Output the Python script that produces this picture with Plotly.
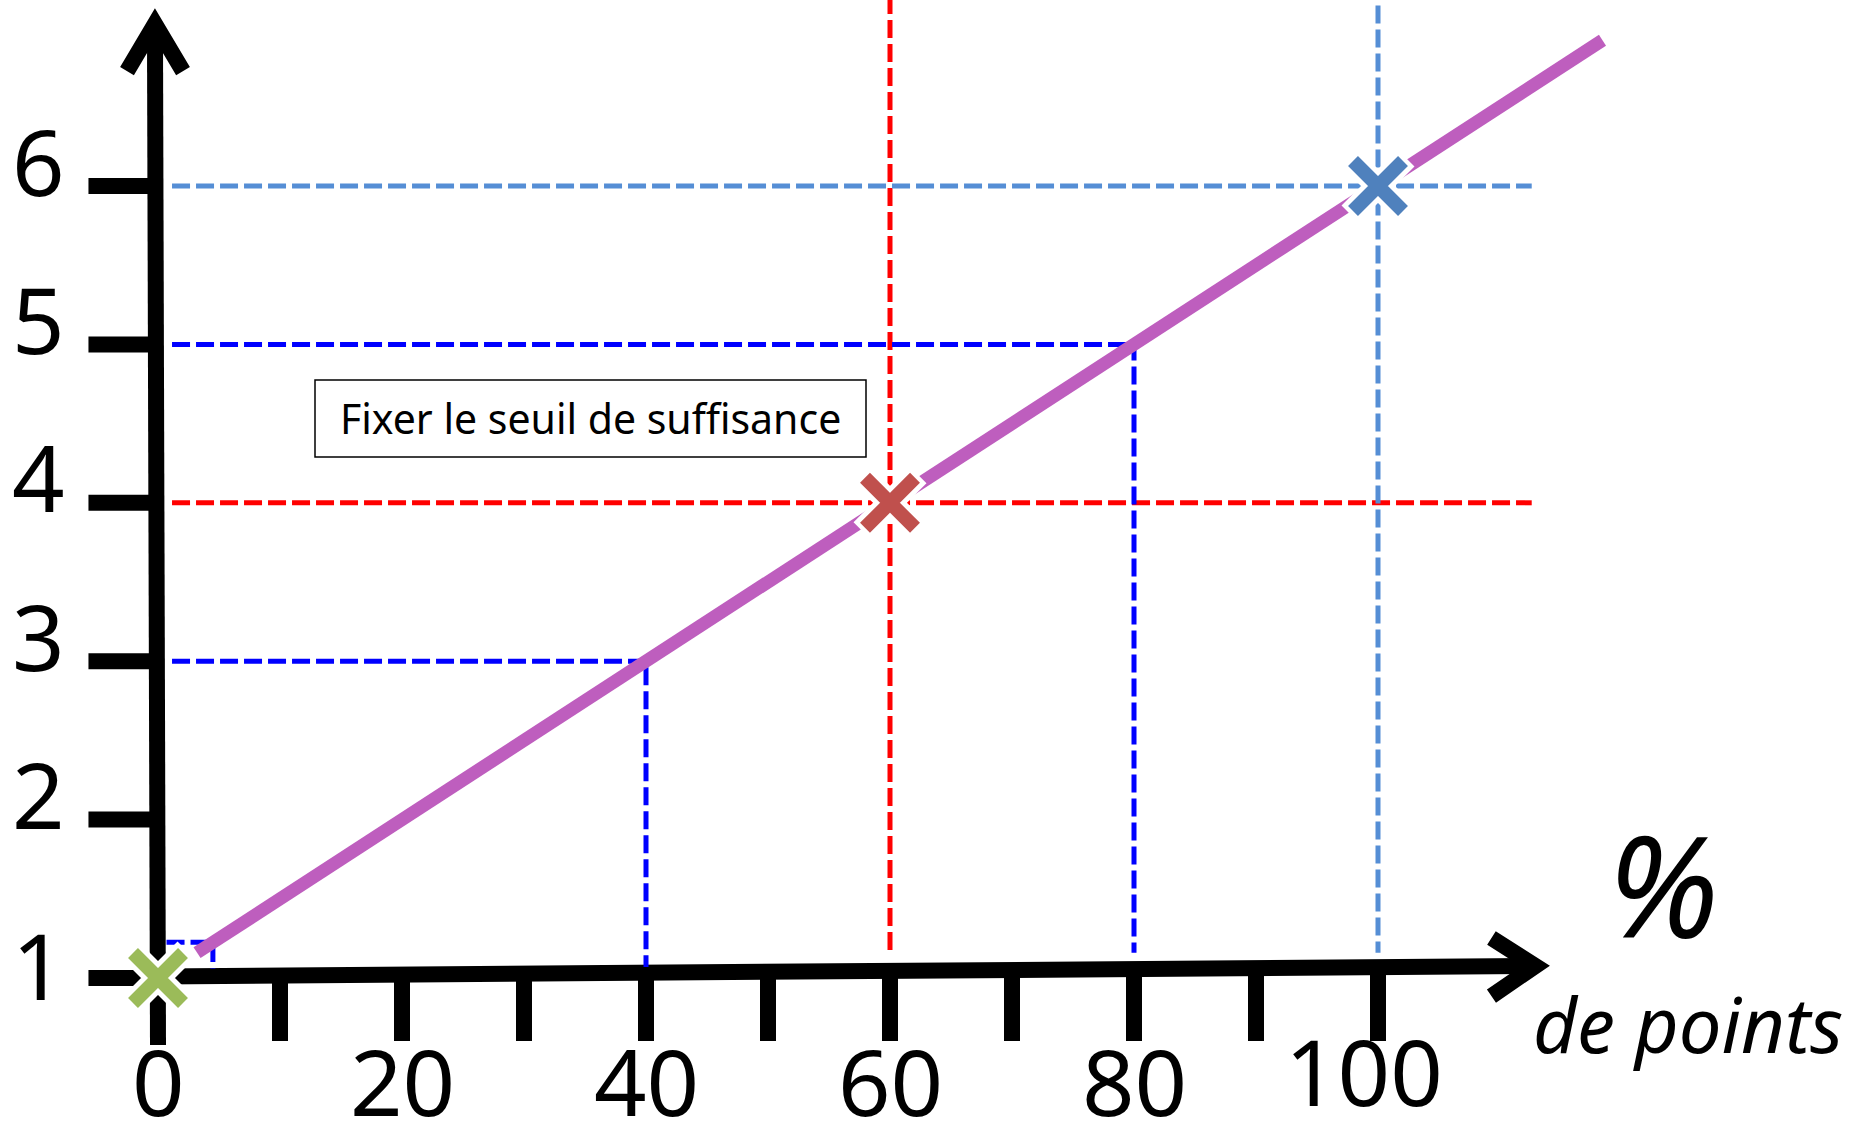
import plotly.graph_objects as go

# axis ticks and labels
x_ticks = [0, 10, 20, 30, 40, 50, 60, 70, 80, 90, 100]
x_labels = [0, 20, 40, 60, 80, 100]
y_ticks = [1, 2, 3, 4, 5, 6]

# conversion line (% of points -> mark)
line_x = [3.2, 118.4]
line_y = [1.16, 6.92]

# reading guides (dashed)
red_h_x = [1.15, 112.6]
red_h_y = [4, 4]
red_v_x = [60, 60]
red_v_y = [7.2, 1.15]
lblue_h_x = [1.15, 112.6]
lblue_h_y = [6, 6]
lblue_v_x = [100, 100]
lblue_v_y = [7.14, 1.16]
blue_x = [1.15, 80, 80]
blue_y = [5, 5, 1.16]
blue2_x = [1.15, 40, 40]
blue2_y = [3, 3, 1.07]
blue3_x = [0.7, 4.5, 4.5]
blue3_y = [1.225, 1.225, 1.06]

# key points
pts_x = [0, 60, 100]
pts_y = [1, 4, 6]
pts_col = ["#9BBB59", "#C0504D", "#4F81BD"]

W, H = 1862, 1132
X0_PX, X_SCALE = 158, 12.2
Y6_PX, Y_SCALE = 186, 158.4
x_range = [-X0_PX / X_SCALE, (W - X0_PX) / X_SCALE]
y_range = [6 - (H - Y6_PX) / Y_SCALE, 6 + Y6_PX / Y_SCALE]

fig = go.Figure()

dash = "18px,6px"
def guide(xs, ys, color):
    fig.add_trace(go.Scatter(x=xs, y=ys, mode="lines",
                             line=dict(color=color, width=5, dash=dash),
                             hoverinfo="skip", showlegend=False))

guide(red_h_x, red_h_y, "#FF0000")
guide(red_v_x, red_v_y, "#FF0000")
guide(lblue_h_x, lblue_h_y, "#558ED5")
guide(lblue_v_x, lblue_v_y, "#558ED5")
guide(blue_x, blue_y, "#0000FF")
guide(blue2_x, blue2_y, "#0000FF")
guide(blue3_x, blue3_y, "#0000FF")

fig.add_trace(go.Scatter(x=line_x, y=line_y, mode="lines",
                         line=dict(color="#BE5EBE", width=13),
                         hoverinfo="skip", showlegend=False))

# white halo then coloured cross
fig.add_trace(go.Scatter(x=pts_x, y=pts_y, mode="markers",
                         marker=dict(symbol="x-thin", size=56,
                                     line=dict(color="white", width=24)),
                         hoverinfo="skip", showlegend=False))
fig.add_trace(go.Scatter(x=pts_x, y=pts_y, mode="markers",
                         marker=dict(symbol="x-thin", size=50,
                                     line=dict(color=pts_col, width=14)),
                         showlegend=False))

# hand-drawn axes
ax = dict(type="line", line=dict(color="black", width=16), layer="below")
ytop = 6 + (Y6_PX - 24) / Y_SCALE
fig.add_shape(x0=0, y0=1 - 67 / Y_SCALE, x1=-0.25, y1=ytop, xref="x", yref="y", **ax)
fig.add_shape(x0=0, y0=1.01, x1=112.9, y1=1.076, xref="x", yref="y", **ax)
for t in y_ticks:
    fig.add_shape(x0=-5.7, y0=t, x1=0, y1=t, xref="x", yref="y", **ax)
for t in x_ticks[1:]:
    fig.add_shape(x0=t, y0=1 + 0.07 * t / 100, x1=t, y1=1 - 63 / Y_SCALE, xref="x", yref="y", **ax)

# arrow heads
fig.add_shape(type="path", xref="x", yref="y", layer="below",
              path="M -2.54,6.725 L -0.25,%.3f L 2.05,6.725" % ytop,
              line=dict(color="black", width=16))
fig.add_shape(type="path", xref="x", yref="y", layer="below",
              path="M 109.3,1.252 L 112.9,1.076 L 109.3,0.886",
              line=dict(color="black", width=16))

font = "Noto Sans, Open Sans, sans-serif"
for t in y_ticks:
    fig.add_annotation(x=-120 / X_SCALE, y=t, text=str(t), showarrow=False,
                       xanchor="center", yanchor="middle",
                       yshift=14 if t == 1 else 26,
                       font=dict(family=font, size=92, color="black"))
for t in x_labels:
    fig.add_annotation(x=t, y=1, text=str(t), showarrow=False,
                       xanchor="center", yanchor="middle",
                       xshift=-14 if t == 100 else 0,
                       yshift=-92 if t == 100 else -102,
                       font=dict(family=font, size=92, color="black"))

fig.add_shape(type="rect", xref="paper", yref="paper",
              x0=315 / W, x1=866 / W, y0=1 - 457 / H, y1=1 - 380 / H,
              line=dict(color="black", width=1.5), fillcolor="white")
fig.add_annotation(xref="paper", yref="paper", x=590 / W, y=1 - 418 / H,
                   xanchor="center", yanchor="middle",
                   text="Fixer le seuil de suffisance", showarrow=False,
                   font=dict(family=font, size=41, color="black"))

fig.add_annotation(xref="paper", yref="paper", x=1663 / W, y=1 - 883 / H,
                   xanchor="center", yanchor="middle",
                   text="<i>%</i>", showarrow=False,
                   font=dict(family=font, size=140, color="black"))
fig.add_annotation(xref="paper", yref="paper", x=1688 / W, y=1 - 1023 / H,
                   xanchor="center", yanchor="middle",
                   text="<i>de points</i>", showarrow=False,
                   font=dict(family=font, size=76, color="black"))

fig.update_layout(width=W, height=H, margin=dict(l=0, r=0, t=0, b=0),
                  paper_bgcolor="white", plot_bgcolor="white",
                  xaxis=dict(range=x_range, visible=False, fixedrange=True),
                  yaxis=dict(range=y_range, visible=False, fixedrange=True),
                  showlegend=False)

fig.write_html("out.html", config={"displayModeBar": False},
               post_script="document.body.style.margin='0';")
